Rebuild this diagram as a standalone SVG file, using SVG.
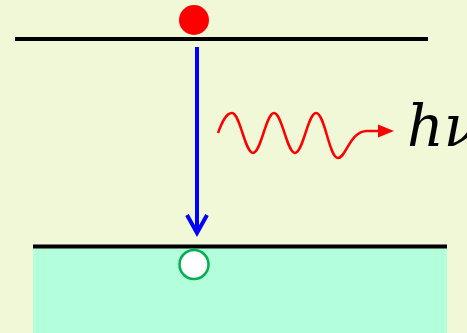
<svg xmlns="http://www.w3.org/2000/svg" width="467" height="333" viewBox="0 0 467 333">
<style>
.lvl{stroke:#000;stroke-width:4;fill:none}
.arr{stroke:#0000FF;stroke-width:4;fill:none}
.wave{stroke:#FF0000;stroke-width:2.5;fill:none}
</style>
<rect width="467" height="333" fill="#F0F8D8"/>
<g id="band"><rect x="33" y="247" width="414" height="86" fill="#B3FFDB"/></g>
<g id="levels">
<line class="lvl" x1="15" y1="39" x2="428" y2="39"/>
<line class="lvl" x1="33" y1="246.5" x2="447" y2="246.5"/>
</g>
<g id="connectors">
<line class="arr" x1="197" y1="47" x2="197" y2="233"/>
<polyline class="arr" points="187,215 197,233 207,215"/>
<path class="wave" d="M218,133 C222,122 226,113 232,113 C240,113 245,153 253,153 C261,153 266,113 274,113 C282,113 287,153 295,153 C303,153 308,113 316,113 C325,113 329,158 338,158 C346,158 350,131 367,131 L380,131"/>
<polygon points="378,124.5 394,131 378,137.5" fill="#FF0000"/>
</g>
<g id="electron"><circle cx="194" cy="20" r="15" fill="#FF0000"/></g>
<g id="hole"><circle cx="194" cy="264.5" r="14.5" fill="#FFFFFF" stroke="#00B050" stroke-width="2.5"/></g>
<g id="label"><text x="407" y="146" font-family="'DejaVu Serif','Liberation Serif',serif" font-style="italic" font-size="57" fill="#000">hν</text></g>
</svg>
